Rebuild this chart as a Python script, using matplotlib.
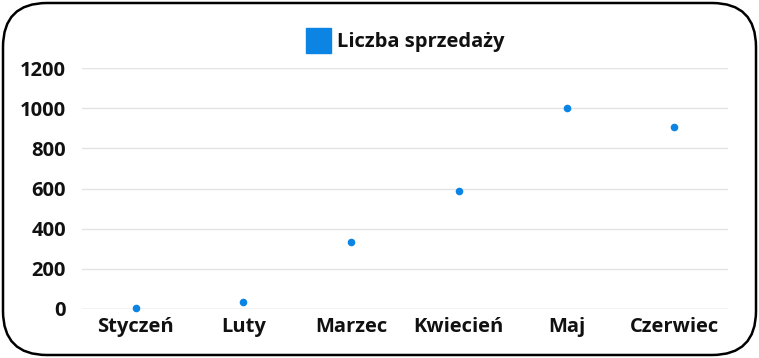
import matplotlib
matplotlib.use("Agg")
import matplotlib.pyplot as plt
from matplotlib.patches import FancyBboxPatch
from matplotlib.lines import Line2D
from matplotlib.transforms import IdentityTransform

categories = ["Styczeń", "Luty", "Marzec", "Kwiecień", "Maj", "Czerwiec"]
values = [3, 35, 333, 590, 1003, 905]
yticks = [0, 200, 400, 600, 800, 1000, 1200]
series_name = "Liczba sprzedaży"
color = "#0B84E3"

plt.rcParams['font.family'] = ['Open Sans', 'DejaVu Sans']

W, H = 759, 358
fig = plt.figure(figsize=(W/100, H/100), dpi=100)
fig.patch.set_facecolor("white")

# rounded border (pixel coordinates)
border = FancyBboxPatch((3, 3), W-6, H-6,
                        boxstyle="round,pad=0,rounding_size=44",
                        transform=IdentityTransform(), facecolor="white",
                        edgecolor="black", linewidth=1.8, zorder=0)
fig.patches.append(border)

ax = fig.add_axes([82/W, 1-309/H, (728-82)/W, (309-68)/H])
ax.set_zorder(2)
ax.set_facecolor("none")
x = list(range(len(categories)))
ax.scatter(x, values, s=30, color=color, zorder=3, clip_on=False, linewidths=0)
ax.set_xlim(-0.5, len(categories)-0.5)
ax.set_ylim(0, 1200)
ax.set_yticks(yticks)
ax.set_yticklabels([str(t) for t in yticks])
ax.set_xticks(x)
ax.set_xticklabels(categories)
for s in ax.spines.values():
    s.set_visible(False)
ax.tick_params(axis='both', length=0, labelsize=14.5)
ax.tick_params(axis='y', pad=11.5)
ax.tick_params(axis='x', pad=6)
for lab in ax.get_xticklabels() + ax.get_yticklabels():
    lab.set_fontweight('bold')
    lab.set_color('#111111')
for t in yticks:
    ax.axhline(t, color='#bdbdbd' if t == 0 else '#e3e3e3', linewidth=1.0, zorder=1)

handle = Line2D([], [], marker='s', linestyle='', color=color, markersize=18)
leg = fig.legend([handle], [series_name], loc='center',
                 bbox_to_anchor=(405/W, 1-42/H), frameon=False,
                 prop={'weight': 'bold', 'size': 14.5}, handletextpad=0.35,
                 handlelength=1.2)
leg.set_zorder(3)
for t in leg.get_texts():
    t.set_color('#111111')

fig.savefig("out.png", dpi=100, facecolor="white")
